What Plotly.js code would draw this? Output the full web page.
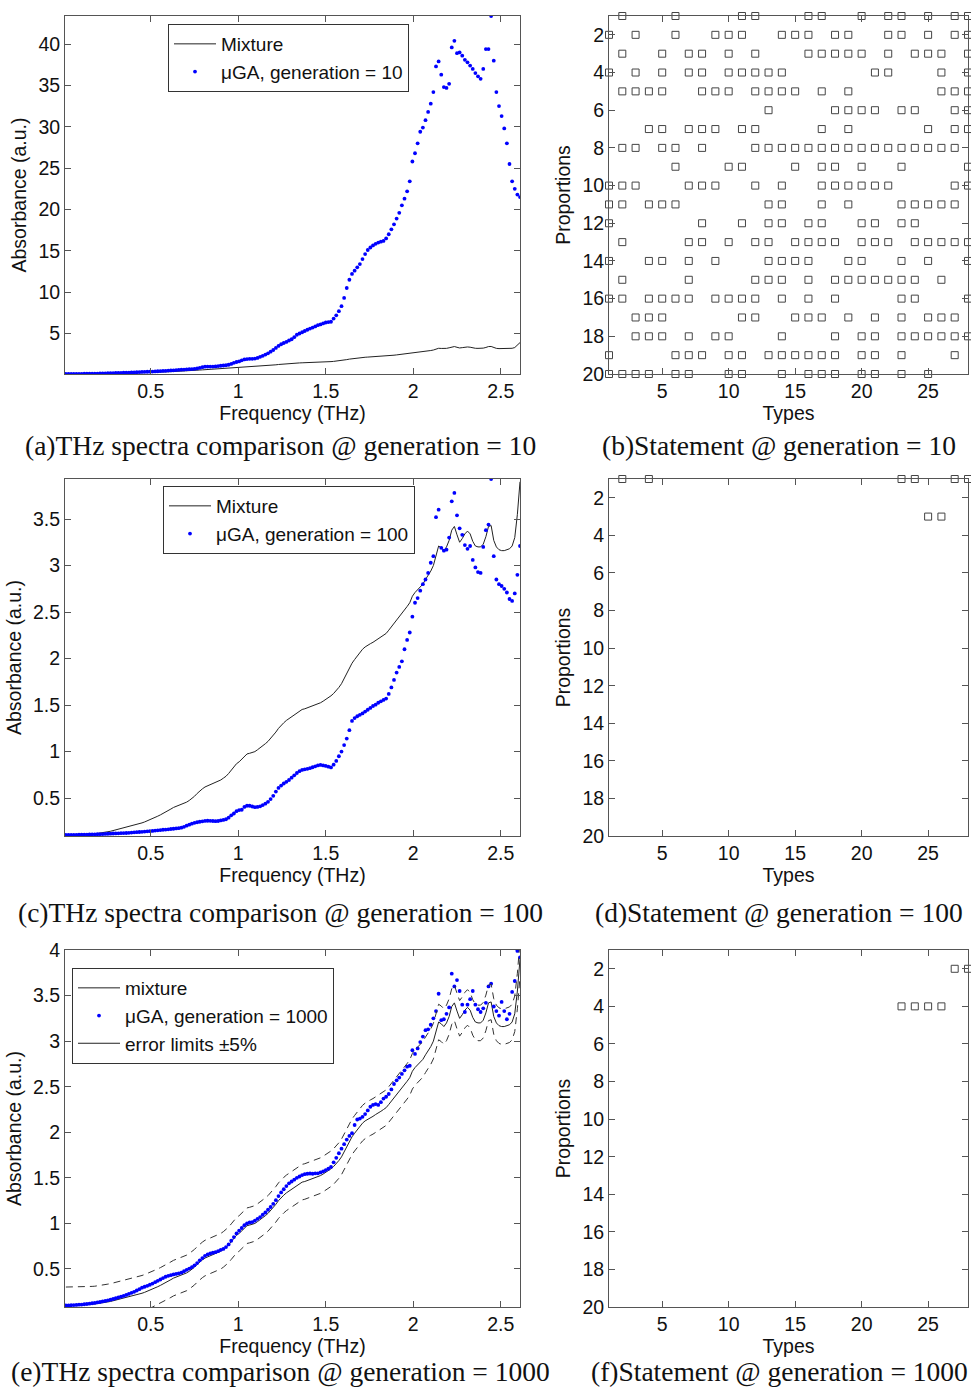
<!DOCTYPE html>
<html>
<head>
<meta charset="utf-8">
<script src="https://cdn.plot.ly/plotly-3.0.1.min.js"></script>
<style>
  html, body { margin: 0; padding: 0; background: #fff; }
  #chart { width: 971px; height: 1389px; }
</style>
</head>
<body>
<div id="chart"></div>
<script>
// Frequency sampling of the spectra (THz)
const FREQ_STEP = 0.015;
const FREQ_COUNT = 174;
const freq = [];
for (let i = 1; i <= FREQ_COUNT; i++) freq.push(+(i * FREQ_STEP).toFixed(3));

// Measured absorbance of the mixture (a.u.)
const mixture = [
  0.107,0.107,0.108,0.108,0.109,0.11,0.11,0.111,0.112,0.113,
  0.114,0.116,0.119,0.123,0.128,0.133,0.139,0.144,0.151,0.158,
  0.166,0.174,0.183,0.192,0.199,0.205,0.212,0.219,0.227,0.234,
  0.244,0.255,0.266,0.278,0.292,0.306,0.32,0.334,0.35,0.366,
  0.383,0.40,0.41,0.42,0.43,0.44,0.457,0.475,0.493,0.52,
  0.55,0.58,0.60,0.62,0.633,0.643,0.653,0.664,0.678,0.695,
  0.715,0.735,0.765,0.80,0.84,0.87,0.89,0.92,0.955,0.975,
  0.982,0.988,1.0,1.02,1.04,1.062,1.085,1.11,1.14,1.175,
  1.21,1.25,1.285,1.31,1.335,1.355,1.375,1.40,1.42,1.44,
  1.453,1.46,1.47,1.478,1.487,1.50,1.512,1.525,1.542,1.56,
  1.58,1.60,1.625,1.655,1.69,1.73,1.785,1.84,1.90,1.95,
  1.99,2.03,2.07,2.10,2.125,2.145,2.16,2.175,2.195,2.21,
  2.23,2.25,2.27,2.305,2.34,2.375,2.41,2.445,2.48,2.52,
  2.56,2.60,2.67,2.71,2.74,2.76,2.80,2.85,2.89,2.94,
  3.0,3.12,3.21,3.19,3.16,3.2,3.27,3.38,3.42,3.33,
  3.25,3.29,3.34,3.37,3.34,3.26,3.21,3.2,3.2,3.23,
  3.31,3.42,3.43,3.27,3.2,3.17,3.16,3.16,3.17,3.18,
  3.21,3.3,3.55,3.9
];

// Spectrum reconstructed by the micro genetic algorithm after 10 generations
const ugaGen10 = [
  0.1,0.1,0.105,0.11,0.115,0.12,0.125,0.13,0.135,0.14,
  0.145,0.15,0.155,0.16,0.17,0.18,0.19,0.2,0.21,0.22,
  0.23,0.24,0.25,0.26,0.27,0.28,0.29,0.31,0.33,0.35,
  0.36,0.37,0.38,0.39,0.41,0.43,0.45,0.47,0.49,0.51,
  0.53,0.55,0.57,0.6,0.62,0.64,0.66,0.68,0.70,0.72,
  0.78,0.85,0.92,0.98,1.0,1.0,1.0,1.02,1.06,1.1,
  1.13,1.16,1.22,1.32,1.45,1.55,1.62,1.75,1.86,1.9,
  1.93,1.94,1.96,2.05,2.18,2.3,2.45,2.6,2.8,3.0,
  3.25,3.5,3.7,3.85,3.98,4.15,4.3,4.55,4.85,5.0,
  5.15,5.3,5.45,5.6,5.72,5.85,6.0,6.1,6.22,6.33,
  6.38,6.42,6.8,7.2,7.7,8.3,9.3,10.5,11.5,12.2,
  12.6,13.0,13.4,14.0,14.6,15.1,15.4,15.65,15.85,16.0,
  16.1,16.2,16.5,17.0,17.6,18.2,18.9,19.6,20.5,21.3,
  22.2,23.4,25.8,26.8,28.0,29.4,29.9,30.8,31.8,32.8,
  34.2,37.3,37.9,36.3,34.8,34.7,35.2,39.6,40.4,38.9,
  39.0,38.6,38.1,37.8,37.4,37.0,36.5,36.1,35.8,37.0,
  39.4,39.4,43.4,38.0,34.2,32.5,31.3,29.8,28.0,25.5,
  23.4,22.5,21.8,21.5
];

// ... after 100 generations
const ugaGen100 = [
  0.104,0.105,0.105,0.106,0.106,0.107,0.107,0.108,0.108,0.109,
  0.11,0.111,0.112,0.113,0.114,0.115,0.117,0.118,0.12,0.121,
  0.122,0.123,0.124,0.125,0.127,0.13,0.132,0.134,0.136,0.138,
  0.141,0.143,0.145,0.148,0.151,0.154,0.157,0.16,0.162,0.165,
  0.168,0.171,0.174,0.177,0.182,0.192,0.204,0.215,0.226,0.235,
  0.241,0.246,0.251,0.255,0.257,0.256,0.254,0.252,0.254,0.26,
  0.266,0.273,0.29,0.315,0.335,0.36,0.372,0.375,0.405,0.418,
  0.418,0.41,0.403,0.405,0.412,0.425,0.44,0.46,0.49,0.525,
  0.57,0.61,0.635,0.657,0.675,0.695,0.72,0.745,0.77,0.79,
  0.803,0.81,0.815,0.822,0.832,0.842,0.852,0.857,0.852,0.846,
  0.838,0.83,0.86,0.9,0.95,1.0,1.07,1.14,1.23,1.33,
  1.36,1.38,1.395,1.41,1.43,1.45,1.47,1.49,1.505,1.525,
  1.54,1.555,1.57,1.62,1.69,1.77,1.85,1.91,1.97,2.1,
  2.2,2.28,2.45,2.6,2.65,2.73,2.8,2.85,2.92,3.03,
  3.1,3.52,3.6,3.19,3.16,3.17,3.3,3.69,3.78,3.54,
  3.4,3.33,3.22,3.18,3.21,3.06,2.98,2.93,2.92,3.2,
  3.38,3.44,3.93,3.1,2.85,2.8,2.78,2.75,2.71,2.64,
  2.62,2.7,2.9,3.21
];

// ... after 1000 generations
const ugaGen1000 = [
  0.1,0.1,0.102,0.104,0.106,0.108,0.11,0.113,0.116,0.12,
  0.124,0.128,0.133,0.138,0.144,0.15,0.156,0.163,0.171,0.179,
  0.188,0.196,0.205,0.215,0.226,0.238,0.25,0.264,0.279,0.295,
  0.305,0.315,0.327,0.34,0.355,0.37,0.385,0.4,0.415,0.425,
  0.432,0.44,0.446,0.452,0.46,0.475,0.49,0.505,0.52,0.54,
  0.565,0.595,0.62,0.645,0.66,0.67,0.678,0.685,0.695,0.71,
  0.72,0.74,0.77,0.81,0.85,0.89,0.92,0.95,0.98,1.0,
  1.01,1.015,1.03,1.05,1.07,1.095,1.12,1.15,1.18,1.215,
  1.255,1.3,1.34,1.375,1.41,1.44,1.46,1.48,1.5,1.515,
  1.53,1.54,1.545,1.548,1.545,1.55,1.55,1.56,1.57,1.585,
  1.6,1.62,1.67,1.72,1.77,1.82,1.87,1.92,1.96,1.99,
  2.08,2.14,2.15,2.17,2.2,2.24,2.28,2.3,2.31,2.3,
  2.33,2.37,2.39,2.42,2.47,2.53,2.57,2.6,2.64,2.68,
  2.72,2.73,2.9,2.86,2.92,2.99,3.05,3.12,3.13,3.18,
  3.25,3.33,3.52,3.23,3.24,3.3,3.37,3.74,3.6,3.67,
  3.55,3.4,3.32,3.4,3.46,3.55,3.4,3.35,3.32,3.36,
  3.42,3.6,3.63,3.38,3.33,3.28,3.43,3.33,3.24,3.3,
  3.54,3.66,3.99,3.92
];

// Tolerance band: +/- 5 % of the mixture's peak absorbance
const ERROR_FRACTION = 0.05;

// Statement matrices: for proportion rows 1..20, the types that are selected
const statementGen10 = [
  [2,6,11,12,16,17,20,22,23,25,27,28],
  [1,3,6,9,10,11,14,15,16,18,19,22,23,25,27,28],
  [2,5,7,8,10,12,16,17,18,19,20,22,24,25,26,28],
  [1,3,5,7,8,10,11,12,13,14,21,22,26,28],
  [2,3,4,5,8,9,10,12,13,14,15,17,19,26,27,28],
  [13,18,19,20,21,23,24,27,28],
  [4,5,7,8,9,11,12,17,19,25,27,28],
  [2,3,5,6,8,12,13,14,15,16,17,18,19,20,21,22,23,24,25,26,27],
  [6,10,11,15,17,18,20,23,28],
  [1,2,3,7,8,9,12,14,17,18,19,20,21,22,27,28],
  [1,2,4,5,6,13,14,17,19,23,24,25,26,27],
  [1,8,11,13,14,16,17,20,21,23,24],
  [2,7,8,10,12,13,15,16,17,18,20,21,22,24,25,26,27,28],
  [1,4,5,7,9,13,14,15,16,19,20,23,25,28],
  [2,7,12,13,14,16,18,19,20,21,22,23,24,26],
  [1,2,4,5,6,7,9,10,11,12,14,16,18,23,24,28],
  [3,4,5,11,12,15,16,17,19,21,23,25,26,27],
  [3,4,5,7,9,10,14,18,20,21,23,24,25,26,27,28],
  [1,6,7,8,10,11,13,14,15,16,17,18,20,21,23,27],
  [1,2,3,4,6,7,10,11,14,16,17,18,20,21,23,25]
];
const statementGen100 = [
  [2,4,23,24,27,28], [], [25,26], [], [], [], [], [], [], [],
  [], [], [], [], [], [], [], [], [], []
];
const statementGen1000 = [
  [], [27,28], [], [23,24,25,26], [], [], [], [], [], [],
  [], [], [], [], [], [], [], [], [], []
];

const freqTicks = [0.5, 1, 1.5, 2, 2.5];
const typeTicks = [5, 10, 15, 20, 25];
const proportionTicks = [2, 4, 6, 8, 10, 12, 14, 16, 18, 20];

const captions = [
  '(a)THz spectra comparison @ generation = 10',
  '(b)Statement @ generation = 10',
  '(c)THz spectra comparison @ generation = 100',
  '(d)Statement @ generation = 100',
  '(e)THz spectra comparison @ generation = 1000',
  '(f)Statement @ generation = 1000'
];

// ---------------------------------------------------------------------------
const W = 971, H = 1389;
const SANS = 'Liberation Sans, Arial, Helvetica, sans-serif';
const SERIF = 'Liberation Serif, Times New Roman, serif';
const INK = '#111';
const AXIS = '#555';

const px = v => v / W;
const py = v => 1 - v / H;

const colLeft = [px(65), px(520)];
const colRight = [px(609), px(968)];
const rows = [[py(374), py(16)], [py(836), py(479)], [py(1307), py(950)]];

function statementPoints(matrix) {
  const x = [], y = [];
  matrix.forEach((types, r) => types.forEach(t => { x.push(t); y.push(r + 1); }));
  return { x, y };
}

const peak = Math.max(...mixture);
const band = ERROR_FRACTION * peak;
const upperLimit = mixture.map(v => v + band);
const lowerLimit = mixture.map(v => v - band);

const lineStyle = { color: '#222', width: 1 };
const dotStyle = { color: '#0000ff', size: 3.8 };
const squareStyle = { symbol: 'square-open', size: 7, color: '#444', line: { width: 1 } };

const traces = [];
function statementTrace(matrix, xa, ya) {
  const p = statementPoints(matrix);
  return { x: p.x, y: p.y, xaxis: xa, yaxis: ya, type: 'scatter', mode: 'markers',
           marker: squareStyle, showlegend: false, cliponaxis: false, hoverinfo: 'x+y' };
}

// (a)
traces.push({ x: freq, y: mixture, xaxis: 'x', yaxis: 'y', type: 'scatter', mode: 'lines',
              line: lineStyle, name: 'Mixture', legend: 'legend' });
traces.push({ x: freq, y: ugaGen10, xaxis: 'x', yaxis: 'y', type: 'scatter', mode: 'markers',
              marker: dotStyle, name: 'μGA, generation = 10', legend: 'legend' });
// (b)
traces.push(statementTrace(statementGen10, 'x2', 'y2'));
// (c)
traces.push({ x: freq, y: mixture, xaxis: 'x3', yaxis: 'y3', type: 'scatter', mode: 'lines',
              line: lineStyle, name: 'Mixture', legend: 'legend2' });
traces.push({ x: freq, y: ugaGen100, xaxis: 'x3', yaxis: 'y3', type: 'scatter', mode: 'markers',
              marker: dotStyle, name: 'μGA, generation = 100', legend: 'legend2' });
// (d)
traces.push(statementTrace(statementGen100, 'x4', 'y4'));
// (e)
traces.push({ x: freq, y: mixture, xaxis: 'x5', yaxis: 'y5', type: 'scatter', mode: 'lines',
              line: lineStyle, name: 'mixture', legend: 'legend3' });
traces.push({ x: freq, y: ugaGen1000, xaxis: 'x5', yaxis: 'y5', type: 'scatter', mode: 'markers',
              marker: dotStyle, name: 'μGA, generation = 1000', legend: 'legend3' });
traces.push({ x: [null], y: [null], xaxis: 'x5', yaxis: 'y5', type: 'scatter', mode: 'lines',
              line: lineStyle, name: 'error limits ±5%', legend: 'legend3', hoverinfo: 'skip' });
traces.push({ x: freq, y: upperLimit, xaxis: 'x5', yaxis: 'y5', type: 'scatter', mode: 'lines',
              line: { color: '#333', width: 1, dash: '7px,5px' }, showlegend: false });
traces.push({ x: freq, y: lowerLimit, xaxis: 'x5', yaxis: 'y5', type: 'scatter', mode: 'lines',
              line: { color: '#333', width: 1, dash: '7px,5px' }, showlegend: false });
// (f)
traces.push(statementTrace(statementGen1000, 'x6', 'y6'));

function axisBase(extra) {
  return Object.assign({
    showline: true, linecolor: AXIS, linewidth: 1, mirror: 'ticks',
    ticks: 'inside', ticklen: 6, tickcolor: AXIS, tickwidth: 1,
    showgrid: false, zeroline: false, fixedrange: true,
    tickfont: { family: SANS, size: 19.5, color: INK },
    title: { font: { family: SANS, size: 19.5, color: INK } }
  }, extra);
}

function freqAxis(anchor, domain) {
  const a = axisBase({ anchor, domain, range: [0.01, 2.61], tickmode: 'array', tickvals: freqTicks });
  a.title.text = 'Frequency (THz)';
  a.title.standoff = 4;
  return a;
}
function absAxis(anchor, domain, range, ticks) {
  const a = axisBase({ anchor, domain, range, tickmode: 'array', tickvals: ticks });
  a.title.text = 'Absorbance (a.u.)';
  a.title.standoff = 6;
  return a;
}
function typeAxis(anchor, domain) {
  const a = axisBase({ anchor, domain, range: [1, 28], tickmode: 'array', tickvals: typeTicks });
  a.title.text = 'Types';
  a.title.standoff = 4;
  return a;
}
function propAxis(anchor, domain) {
  const a = axisBase({ anchor, domain, range: [20, 1], tickmode: 'array', tickvals: proportionTicks });
  a.title.text = 'Proportions';
  a.title.standoff = 6;
  return a;
}

const legendBase = {
  xanchor: 'left', yanchor: 'top', bgcolor: '#fff', bordercolor: '#333', borderwidth: 1,
  font: { family: SANS, size: 19, color: INK }, itemwidth: 42, tracegroupgap: 0
};

// Caption rows; the last row sits on the page's bottom edge
const annotations = captions.map((text, i) => {
  const row = Math.floor(i / 2);
  const base = {
    text, xref: 'paper', yref: 'paper',
    x: i % 2 === 0 ? px(280) : px(779),
    xanchor: 'center', showarrow: false,
    font: { family: SERIF, size: 27.5, color: INK }
  };
  if (row < 2) return Object.assign(base, { y: py(row === 0 ? 445 : 912), yanchor: 'middle' });
  return Object.assign(base, { y: 0, yanchor: 'bottom' });
});

const layout = {
  width: W, height: H,
  margin: { l: 0, r: 0, t: 0, b: 0, pad: 0 },
  paper_bgcolor: '#fff', plot_bgcolor: '#fff',
  showlegend: true,
  font: { family: SANS, color: INK },
  xaxis: freqAxis('y', colLeft),
  yaxis: absAxis('x', rows[0], [0.1, 43.4], [5, 10, 15, 20, 25, 30, 35, 40]),
  xaxis2: typeAxis('y2', colRight),
  yaxis2: propAxis('x2', rows[0]),
  xaxis3: freqAxis('y3', colLeft),
  yaxis3: absAxis('x3', rows[1], [0.093, 3.93], [0.5, 1, 1.5, 2, 2.5, 3, 3.5]),
  xaxis4: typeAxis('y4', colRight),
  yaxis4: propAxis('x4', rows[1]),
  xaxis5: freqAxis('y5', colLeft),
  yaxis5: absAxis('x5', rows[2], [0.083, 4.0], [0.5, 1, 1.5, 2, 2.5, 3, 3.5, 4]),
  xaxis6: typeAxis('y6', colRight),
  yaxis6: propAxis('x6', rows[2]),
  legend: Object.assign({ x: px(168), y: py(24) }, legendBase),
  legend2: Object.assign({ x: px(163), y: py(486) }, legendBase),
  legend3: Object.assign({ x: px(72), y: py(968) }, legendBase),
  annotations
};

Plotly.newPlot('chart', traces, layout, { staticPlot: true, displayModeBar: false });
</script>
</body>
</html>
